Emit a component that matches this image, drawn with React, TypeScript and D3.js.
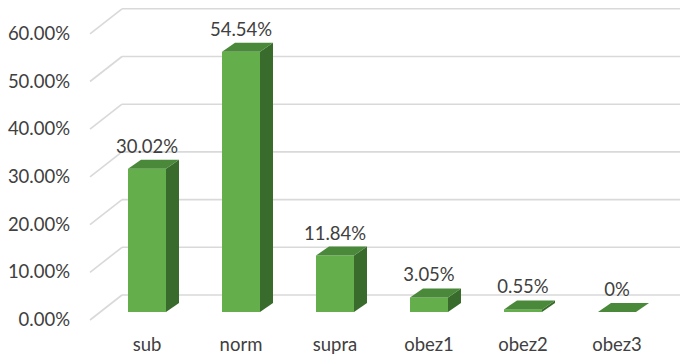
import React from 'react';
import * as d3 from 'd3';

const categories = ['sub', 'norm', 'supra', 'obez1', 'obez2', 'obez3'];
const values = [30.02, 54.54, 11.84, 3.05, 0.55, 0];
const valueLabels = ['30.02%', '54.54%', '11.84%', '3.05%', '0.55%', '0%'];
const ticks = [0, 10, 20, 30, 40, 50, 60];

const width = 680, height = 356;
const baseY = 312;          // bottom of the bar front faces
const floorDy = 17;         // front of bars -> back wall
const wallX = 122;          // left edge of back wall
const wallDx = 32, wallDy = 25; // floor diagonal
const barW = 38, depthX = 13, depthY = 9;

const font = "Lato, 'Open Sans', sans-serif";
const fs = 18.5;

const App = () => {
  const y = d3.scaleLinear().domain([0, 60]).range([baseY, baseY - 286.2]);
  const x = d3.scalePoint<string>().domain(categories).range([147, 617]);

  const poly = (pts: number[][]) => 'M' + pts.map(p => p.join(',')).join('L') + 'Z';

  return (
    <svg width={width} height={height} style={{ position: 'absolute', left: 0, top: 0, background: '#fff' }}>
      {/* grid: back wall + left floor diagonals */}
      {ticks.map(t => {
        const yb = y(t) - floorDy;
        return (
          <g key={t}>
            <line x1={wallX} x2={width} y1={yb} y2={yb} stroke="#d9d9d9" strokeWidth={1.6} />
            <line x1={wallX} x2={wallX - wallDx} y1={yb} y2={yb + wallDy} stroke="#d9d9d9" strokeWidth={1.6} />
            <text x={70} y={yb + 31} textAnchor="end" fontFamily={font} fontSize={fs} fill="#404040">
              {t.toFixed(2) + '%'}
            </text>
          </g>
        );
      })}

      {/* bars */}
      {categories.map((c, i) => {
        const cx = x(c) as number;
        const x0 = cx - barW / 2, x1 = cx + barW / 2;
        const yt = y(values[i]);
        return (
          <g key={c}>
            {yt < baseY && <rect x={x0} y={yt} width={barW} height={baseY - yt} fill="#64ae4b" />}
            <path d={poly([[x1, yt], [x1 + depthX, yt - depthY], [x1 + depthX, baseY - depthY], [x1, baseY]])} fill="#396b2c" />
            <path d={poly([[x0, yt], [x0 + depthX, yt - depthY], [x1 + depthX, yt - depthY], [x1, yt]])} fill="#4a883a" />
            <text x={cx} y={yt - 16} textAnchor="middle" fontFamily={font} fontSize={fs} fill="#404040">
              {valueLabels[i]}
            </text>
            <text x={cx} y={351} textAnchor="middle" fontFamily={font} fontSize={fs} fill="#404040">
              {c}
            </text>
          </g>
        );
      })}
    </svg>
  );
};

export default App;
